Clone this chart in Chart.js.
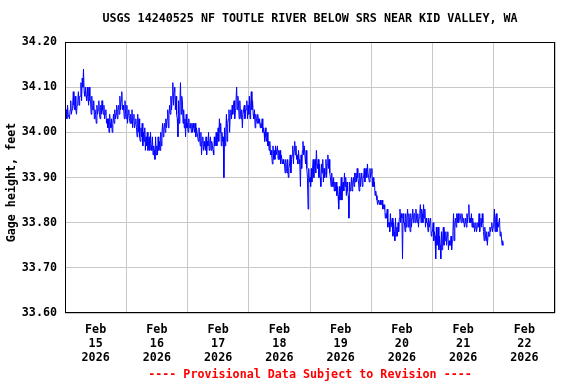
<!DOCTYPE html>
<html>
<head>
<meta charset="utf-8">
<script src="https://cdn.jsdelivr.net/npm/chart.js@4/dist/chart.umd.min.js"></script>
<style>
  html, body { margin: 0; padding: 0; background: #fff; }
  canvas { display: block; }
</style>
</head>
<body>
<canvas id="gage" width="576" height="384"></canvas>
<script>
// Gage height readings, every 15 minutes starting Feb 15 00:00 (one row = 3 hours)
const feb15 = [
  34.04, 34.03, 34.05, 34.03, 34.06, 34.04, 34.04, 34.03, 34.05, 34.07, 34.04, 34.05,
  34.06, 34.09, 34.06, 34.05, 34.08, 34.05, 34.04, 34.06, 34.07, 34.09, 34.06, 34.08,
  34.08, 34.11, 34.07, 34.12, 34.10, 34.14, 34.09, 34.08, 34.10, 34.08, 34.07, 34.10,
  34.08, 34.06, 34.10, 34.07, 34.07, 34.04, 34.08, 34.05, 34.05, 34.07, 34.03, 34.05,
  34.04, 34.02, 34.06, 34.04, 34.05, 34.07, 34.04, 34.03, 34.06, 34.04, 34.07, 34.05,
  34.04, 34.06, 34.03, 34.04, 34.05, 34.02, 34.03, 34.01, 34.03, 34.00, 34.04, 34.02,
  34.01, 34.03, 34.00, 34.02, 34.04, 34.02, 34.05, 34.03, 34.04, 34.06, 34.03, 34.05,
  34.06, 34.04, 34.08, 34.05, 34.07, 34.09, 34.05, 34.06, 34.05, 34.03, 34.07, 34.04
];
const feb16 = [
  34.03, 34.06, 34.02, 34.04, 34.05, 34.03, 34.02, 34.04, 34.02, 34.05, 34.01, 34.03,
  34.04, 34.01, 34.02, 34.03, 34.01, 33.99, 34.04, 34.00, 34.03, 33.99, 33.98, 34.01,
  33.99, 34.02, 33.97, 34.00, 33.98, 34.01, 33.96, 33.99, 33.97, 34.00, 33.96, 33.98,
  33.99, 33.96, 34.00, 33.97, 33.96, 33.99, 33.95, 33.97, 33.96, 33.94, 33.99, 33.95,
  33.97, 33.95, 33.99, 33.96, 33.98, 33.96, 34.00, 33.97, 34.00, 34.02, 33.99, 34.01,
  34.02, 34.00, 34.03, 34.01, 34.03, 34.05, 34.01, 34.04, 34.06, 34.04, 34.08, 34.05,
  34.08, 34.11, 34.06, 34.09, 34.10, 34.05, 34.08, 34.04, 34.03, 33.99, 34.07, 34.02,
  34.06, 34.11, 34.04, 34.08, 34.07, 34.02, 34.05, 34.01, 34.03, 33.99, 34.04, 34.01
];
const feb17 = [
  34.02, 34.00, 34.03, 34.01, 34.01, 34.02, 34.00, 34.02, 34.00, 34.02, 34.01, 34.00,
  34.02, 33.99, 34.01, 34.00, 34.00, 33.98, 34.01, 33.99, 33.97, 34.00, 33.95, 33.98,
  33.99, 33.96, 33.98, 33.97, 33.96, 33.99, 33.95, 33.98, 33.97, 34.00, 33.96, 33.98,
  33.99, 33.96, 33.98, 33.97, 33.96, 33.95, 33.99, 33.97, 33.98, 34.00, 33.97, 33.99,
  34.01, 33.98, 34.03, 34.00, 34.02, 33.97, 34.00, 33.98, 33.99, 33.90, 34.01, 33.97,
  34.00, 34.04, 33.98, 34.02, 34.03, 34.05, 34.00, 34.04, 34.05, 34.03, 34.06, 34.04,
  34.06, 34.07, 34.03, 34.05, 34.07, 34.10, 34.05, 34.08, 34.06, 34.03, 34.07, 34.04,
  34.03, 34.05, 34.01, 34.04, 34.04, 34.06, 34.03, 34.05, 34.05, 34.07, 34.03, 34.06
];
const feb18 = [
  34.04, 34.08, 34.03, 34.06, 34.09, 34.05, 34.07, 34.04, 34.03, 34.05, 34.01, 34.04,
  34.03, 34.02, 34.04, 34.03, 34.02, 34.03, 34.01, 34.02, 34.01, 34.03, 34.00, 34.01,
  34.00, 33.98, 34.01, 33.99, 33.98, 34.00, 33.97, 33.98, 33.96, 33.98, 33.95, 33.96,
  33.95, 33.93, 33.97, 33.94, 33.96, 33.94, 33.97, 33.95, 33.95, 33.97, 33.94, 33.96,
  33.94, 33.96, 33.93, 33.95, 33.95, 33.93, 33.94, 33.93, 33.93, 33.91, 33.94, 33.92,
  33.91, 33.94, 33.90, 33.92, 33.93, 33.95, 33.91, 33.94, 33.95, 33.97, 33.93, 33.96,
  33.98, 33.95, 33.97, 33.94, 33.95, 33.93, 33.96, 33.94, 33.93, 33.88, 33.95, 33.92,
  33.96, 33.98, 33.95, 33.97, 33.97, 33.93, 33.96, 33.92, 33.90, 33.83, 33.92, 33.89
];
const feb19 = [
  33.90, 33.88, 33.92, 33.89, 33.92, 33.94, 33.90, 33.93, 33.94, 33.91, 33.96, 33.93,
  33.92, 33.94, 33.90, 33.93, 33.90, 33.88, 33.93, 33.91, 33.94, 33.89, 33.92, 33.90,
  33.91, 33.94, 33.90, 33.93, 33.95, 33.92, 33.94, 33.91, 33.90, 33.88, 33.91, 33.89,
  33.88, 33.90, 33.87, 33.89, 33.87, 33.89, 33.86, 33.88, 33.86, 33.83, 33.88, 33.85,
  33.87, 33.90, 33.85, 33.88, 33.89, 33.87, 33.91, 33.88, 33.90, 33.86, 33.89, 33.87,
  33.86, 33.81, 33.89, 33.87, 33.88, 33.90, 33.87, 33.89, 33.90, 33.88, 33.91, 33.89,
  33.91, 33.89, 33.92, 33.90, 33.89, 33.87, 33.91, 33.88, 33.90, 33.91, 33.88, 33.90,
  33.90, 33.92, 33.89, 33.91, 33.92, 33.90, 33.93, 33.91, 33.91, 33.89, 33.92, 33.90
];
const feb20 = [
  33.91, 33.92, 33.88, 33.90, 33.88, 33.89, 33.86, 33.87, 33.86, 33.85, 33.84, 33.85,
  33.85, 33.84, 33.85, 33.84, 33.84, 33.85, 33.83, 33.84, 33.83, 33.84, 33.81, 33.82,
  33.81, 33.83, 33.79, 33.80, 33.80, 33.78, 33.82, 33.79, 33.79, 33.81, 33.77, 33.80,
  33.78, 33.76, 33.81, 33.77, 33.79, 33.77, 33.80, 33.78, 33.81, 33.83, 33.80, 33.82,
  33.81, 33.72, 33.82, 33.80, 33.80, 33.78, 33.82, 33.79, 33.81, 33.83, 33.79, 33.82,
  33.80, 33.78, 33.82, 33.79, 33.81, 33.83, 33.80, 33.82, 33.82, 33.80, 33.83, 33.81,
  33.80, 33.82, 33.79, 33.81, 33.82, 33.84, 33.80, 33.83, 33.82, 33.80, 33.84, 33.81,
  33.83, 33.79, 33.81, 33.80, 33.80, 33.78, 33.81, 33.79, 33.79, 33.81, 33.77, 33.78
];
const feb21 = [
  33.78, 33.80, 33.76, 33.78, 33.77, 33.72, 33.79, 33.75, 33.76, 33.79, 33.74, 33.77,
  33.75, 33.72, 33.78, 33.74, 33.77, 33.79, 33.75, 33.78, 33.76, 33.78, 33.75, 33.77,
  33.78, 33.74, 33.76, 33.75, 33.75, 33.77, 33.74, 33.76, 33.78, 33.82, 33.76, 33.80,
  33.81, 33.79, 33.82, 33.80, 33.82, 33.80, 33.81, 33.82, 33.81, 33.80, 33.82, 33.81,
  33.80, 33.81, 33.79, 33.80, 33.81, 33.79, 33.82, 33.80, 33.82, 33.84, 33.80, 33.81,
  33.80, 33.82, 33.79, 33.81, 33.79, 33.80, 33.78, 33.79, 33.80, 33.78, 33.79, 33.80,
  33.79, 33.82, 33.78, 33.80, 33.81, 33.79, 33.82, 33.80, 33.78, 33.76, 33.79, 33.77,
  33.76, 33.78, 33.75, 33.77, 33.78, 33.77, 33.79, 33.78, 33.79, 33.80, 33.78, 33.79
];
const feb22 = [
  33.80, 33.83, 33.78, 33.81, 33.82, 33.78, 33.80, 33.79, 33.79, 33.81, 33.77, 33.78,
  33.77, 33.75, 33.76, 33.75
];

// x axis: one label per day, centred at noon; grid at midnight
const dayNumbers = ['15', '16', '17', '18', '19', '20', '21', '22'];
const monthLabel = 'Feb';
const yearLabel = '2026';
const yTickValues = [33.60, 33.70, 33.80, 33.90, 34.00, 34.10, 34.20];

const titleText = 'USGS 14240525 NF TOUTLE RIVER BELOW SRS NEAR KID VALLEY, WA';
const footerText = '---- Provisional Data Subject to Revision ----';
const yAxisTitle = 'Gage height, feet';

const FONT = "'DejaVu Sans Mono', 'Liberation Mono', monospace";
const READING_STEP = 0.25; // hours between readings

const readings = [].concat(feb15, feb16, feb17, feb18, feb19, feb20, feb21, feb22);
const points = readings.map((v, i) => ({ x: i * READING_STEP, y: v }));

// Title, footer, axis title and plot frame
const framePlugin = {
  id: 'frame',
  afterDatasetsDraw(chart) {
    const { ctx, chartArea: a } = chart;
    ctx.save();
    ctx.strokeStyle = '#000';
    ctx.lineWidth = 1;
    ctx.strokeRect(a.left + 0.5, a.top + 0.5, a.right - a.left - 1, a.bottom - a.top - 1);
    ctx.restore();
  },
  afterDraw(chart) {
    const { ctx, chartArea: a } = chart;
    const cx = (a.left + a.right) / 2;
    ctx.save();
    ctx.textAlign = 'center';
    ctx.textBaseline = 'middle';
    ctx.font = `bold 11.7px ${FONT}`;
    ctx.fillStyle = '#000';
    ctx.fillText(titleText, cx, 19);
    ctx.fillStyle = '#ff0000';
    ctx.fillText(footerText, cx, 375);
    // y axis title, rotated
    ctx.fillStyle = '#000';
    ctx.translate(12, (a.top + a.bottom) / 2 + 5);
    ctx.rotate(-Math.PI / 2);
    ctx.fillText(yAxisTitle, 0, 0);
    ctx.restore();
  }
};

new Chart(document.getElementById('gage'), {
  type: 'line',
  data: {
    datasets: [{
      data: points,
      borderColor: '#0000ff',
      borderWidth: 1,
      pointRadius: 0,
      tension: 0,
      fill: false
    }]
  },
  options: {
    responsive: false,
    animation: false,
    devicePixelRatio: 1,
    layout: { padding: { top: 42, right: 21, left: 0, bottom: 0 } },
    plugins: {
      legend: { display: false },
      tooltip: { enabled: false }
    },
    scales: {
      x: {
        type: 'linear',
        min: 0,
        max: dayNumbers.length * 24,
        afterFit: (scale) => { scale.height = 71; },
        afterBuildTicks: (scale) => {
          const ticks = [];
          for (let h = 0; h <= dayNumbers.length * 24; h += 12) ticks.push({ value: h });
          scale.ticks = ticks;
        },
        border: { display: false },
        grid: {
          drawTicks: false,
          lineWidth: 1,
          color: (ctx) => (ctx.tick && ctx.tick.value % 24 === 0) ? '#c8c8c8' : 'rgba(0,0,0,0)'
        },
        ticks: {
          autoSkip: false,
          maxRotation: 0,
          padding: 10,
          color: '#000',
          font: { family: FONT, size: 11.7, weight: 'bold', lineHeight: 1.2 },
          callback: (value) => {
            if (value % 24 !== 12) return '';
            return [monthLabel, dayNumbers[(value - 12) / 24], yearLabel];
          }
        }
      },
      y: {
        min: 33.6,
        max: 34.2,
        afterFit: (scale) => { scale.width = 65; },
        afterBuildTicks: (scale) => {
          scale.ticks = yTickValues.map(v => ({ value: v }));
        },
        border: { display: false },
        grid: { drawTicks: false, color: '#c8c8c8', lineWidth: 1 },
        ticks: {
          padding: 8,
          color: '#000',
          font: { family: FONT, size: 11.7, weight: 'bold' },
          callback: (value) => Number(value).toFixed(2)
        }
      }
    }
  },
  plugins: [framePlugin]
});
</script>
</body>
</html>
